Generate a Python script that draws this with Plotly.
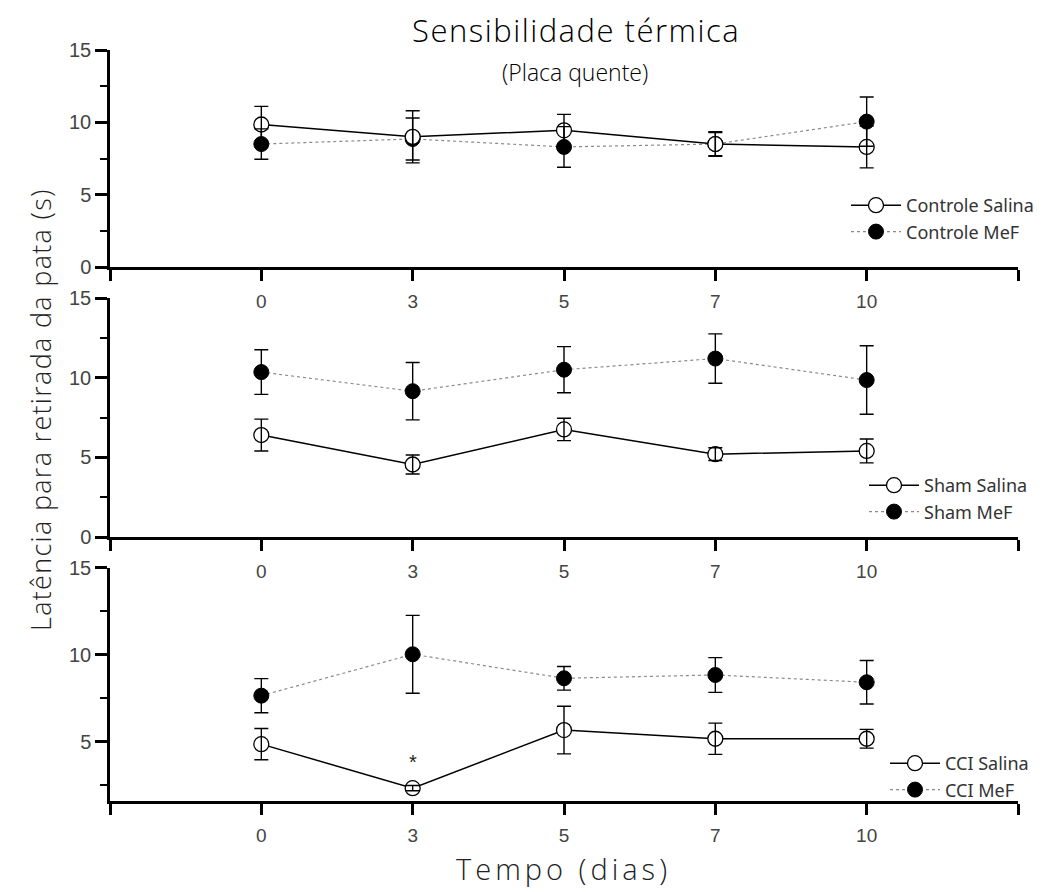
import plotly.graph_objects as go

days = ["0", "3", "5", "7", "10"]
pos = [0, 1, 2, 3, 4]

ctrl_sal = [9.85, 9.0, 9.45, 8.5, 8.3]
ctrl_sal_err = [1.25, 1.8, 1.1, 0.8, 1.45]
ctrl_mef = [8.5, 8.85, 8.3, 8.5, 10.05]
ctrl_mef_err = [1.05, 1.45, 1.4, 0.85, 1.7]

sham_sal = [6.4, 4.55, 6.75, 5.2, 5.4]
sham_sal_err = [1.0, 0.6, 0.7, 0.4, 0.75]
sham_mef = [10.35, 9.15, 10.5, 11.2, 9.85]
sham_mef_err = [1.4, 1.8, 1.45, 1.55, 2.15]

cci_sal = [4.85, 2.32, 5.66, 5.16, 5.16]
cci_sal_err = [0.9, 0.15, 1.37, 0.9, 0.54]
cci_mef = [7.64, 10.02, 8.64, 8.83, 8.41]
cci_mef_err = [0.98, 2.24, 0.68, 1.0, 1.25]

names = [("Controle Salina", "Controle MeF"), ("Sham Salina", "Sham MeF"), ("CCI Salina", "CCI MeF")]
series = [
    (ctrl_sal, ctrl_sal_err, ctrl_mef, ctrl_mef_err),
    (sham_sal, sham_sal_err, sham_mef, sham_mef_err),
    (cci_sal, cci_sal_err, cci_mef, cci_mef_err),
]

fig = go.Figure()
axn = ["", "2", "3"]
legn = ["legend", "legend2", "legend3"]
for i, (s, se, m, me) in enumerate(series):
    xa = "x" + axn[i]
    ya = "y" + axn[i]
    fig.add_trace(go.Scatter(
        x=pos, y=m, mode="lines+markers", name=names[i][1], xaxis=xa, yaxis=ya,
        legend=legn[i], legendrank=2,
        line=dict(color="#8a8a8a", width=1.2, dash="dot"),
        marker=dict(symbol="circle", size=15, color="black", line=dict(color="black", width=1)),
    ))
    fig.add_trace(go.Scatter(
        x=pos, y=s, mode="lines+markers", name=names[i][0], xaxis=xa, yaxis=ya,
        legend=legn[i], legendrank=1,
        line=dict(color="black", width=1.5),
        marker=dict(symbol="circle", size=15, color="white", line=dict(color="black", width=1.3)),
    ))
    for vals, errs in ((m, me), (s, se)):
        fig.add_trace(go.Scatter(
            x=pos, y=vals, mode="markers", xaxis=xa, yaxis=ya, showlegend=False, hoverinfo="skip",
            marker=dict(size=1, color="rgba(0,0,0,0)"),
            error_y=dict(type="data", array=errs, visible=True, color="black", thickness=1.4, width=7),
        ))

# page is offset by the 8px body margin
W, H = 1048, 884
L, R, T, B = 102, 38, 42, 91
ph = H - T - B
pw = W - L - R

def fy(py):
    return (H - B - (py - 8)) / ph

def fx(px):
    return (px - 8 - L) / pw

tick_font = dict(family="Liberation Sans", size=19, color="#444")
ytick_font = dict(family="Liberation Sans", size=20, color="#444")
xcommon = dict(
    range=[-1, 5], tickvals=[-1, 0, 1, 2, 3, 4, 5], ticktext=[""] + days + [""],
    showline=True, linecolor="black", linewidth=2.5, ticks="outside", ticklen=11, tickwidth=2.5,
    tickcolor="black", tickfont=tick_font, showgrid=False, zeroline=False, ticklabelstandoff=4,
    domain=[0, 1],
)
ycommon = dict(
    showline=True, linecolor="black", linewidth=2.5, ticks="outside", ticklen=12, tickwidth=2.5,
    tickcolor="black", tickfont=ytick_font, showgrid=False, zeroline=False, dtick=5, tick0=0,
    ticklabelstandoff=0,
    minor=dict(dtick=2.5, tick0=0, ticks="outside", ticklen=7, tickwidth=2, tickcolor="black", showgrid=False),
)

fig.update_layout(
    width=W, height=H, plot_bgcolor="white", paper_bgcolor="white",
    margin=dict(l=L, r=R, t=T, b=B, autoexpand=False),
    xaxis=dict(anchor="y", **xcommon),
    xaxis2=dict(anchor="y2", **xcommon),
    xaxis3=dict(anchor="y3", **xcommon),
    yaxis=dict(anchor="x", range=[0, 15], domain=[fy(267), 1], **ycommon),
    yaxis2=dict(anchor="x2", range=[0, 15], domain=[fy(537), fy(298)], **ycommon),
    yaxis3=dict(anchor="x3", range=[1.58, 15], domain=[0, fy(567.7)], **ycommon),
    showlegend=True,
)

leg_common = dict(bgcolor="rgba(0,0,0,0)", font=dict(family="Noto Sans", size=18, color="#333"),
                  xanchor="left", yanchor="top", itemwidth=50, traceorder="normal", tracegroupgap=0)
fig.update_layout(
    legend=dict(x=fx(846), y=fy(187), **leg_common),
    legend2=dict(x=fx(864), y=fy(467), **leg_common),
    legend3=dict(x=fx(885), y=fy(745), **leg_common),
)

title_font = "Open Sans"
def spaced(t, px):
    return '<span style="letter-spacing:%spx">%s</span>' % (px, t)

fig.add_annotation(text=spaced("Sensibilidade térmica", 1.5), xref="paper", yref="paper", x=fx(576), y=fy(30),
                   showarrow=False, font=dict(family=title_font, size=31, color="black", weight=300),
                   xanchor="center", yanchor="middle")
fig.add_annotation(text="(Placa quente)", xref="paper", yref="paper", x=fx(575), y=fy(72),
                   showarrow=False, font=dict(family=title_font, size=23, color="black", weight=300),
                   xanchor="center", yanchor="middle")
fig.add_annotation(text=spaced("Latência para retirada da pata (s)", 1.3), xref="paper", yref="paper",
                   x=fx(40), y=fy(410), showarrow=False, textangle=-90,
                   font=dict(family=title_font, size=27, color="#222", weight=300),
                   xanchor="center", yanchor="middle")
fig.add_annotation(text=spaced("Tempo (dias)", 4), xref="paper", yref="paper", x=fx(563), y=fy(868),
                   showarrow=False, font=dict(family=title_font, size=29, color="#222", weight=300),
                   xanchor="center", yanchor="middle")
fig.add_annotation(text="*", xref="x3", yref="y3", x=1, y=3.85, showarrow=False,
                   font=dict(family="Liberation Sans", size=20, color="#222"), yanchor="middle")

fig.write_html("out.html")
